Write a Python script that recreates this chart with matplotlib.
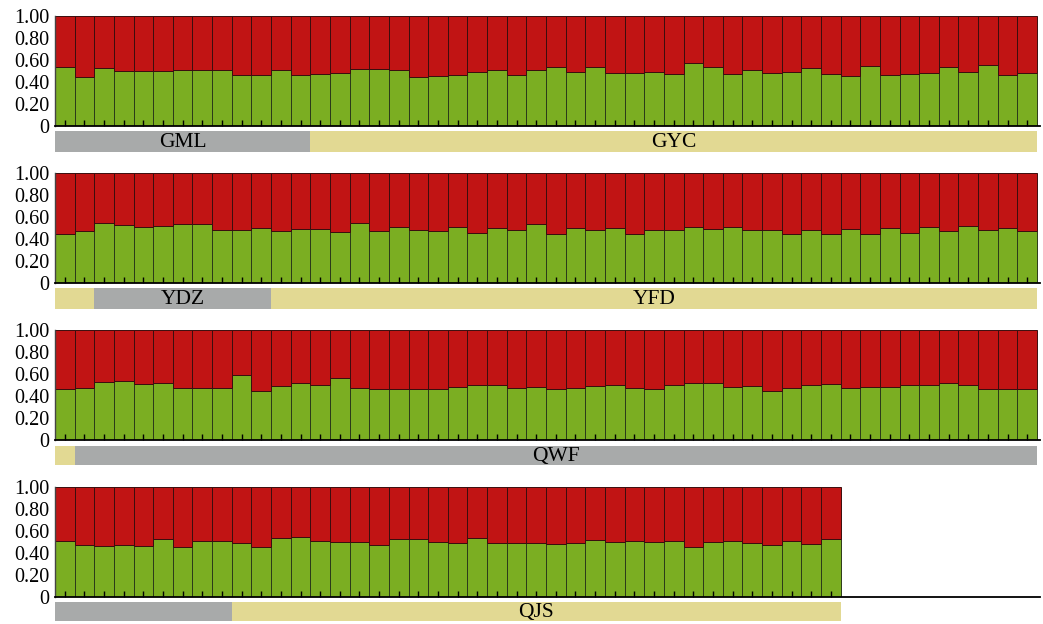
import matplotlib
matplotlib.use("Agg")
import matplotlib.pyplot as plt
import numpy as np

plt.rcParams['font.family'] = ['Liberation Serif', 'DejaVu Serif']

# proportion of the first cluster (green) for each individual
green_1 = [0.54, 0.447, 0.526, 0.498, 0.498, 0.498, 0.505, 0.51, 0.505, 0.468,
           0.468, 0.51, 0.462, 0.477, 0.486, 0.517, 0.517, 0.505, 0.447, 0.459,
           0.468, 0.489, 0.51, 0.468, 0.51, 0.54, 0.495, 0.532, 0.483, 0.483,
           0.495, 0.474, 0.577, 0.532, 0.474, 0.51, 0.483, 0.492, 0.526, 0.474,
           0.453, 0.547, 0.462, 0.474, 0.483, 0.54, 0.492, 0.556, 0.468, 0.486]
green_2 = [0.442, 0.473, 0.545, 0.527, 0.512, 0.521, 0.536, 0.536, 0.479, 0.485,
           0.5, 0.473, 0.491, 0.491, 0.465, 0.545, 0.473, 0.506, 0.479, 0.47,
           0.506, 0.455, 0.497, 0.485, 0.533, 0.448, 0.497, 0.479, 0.497, 0.442,
           0.485, 0.479, 0.506, 0.491, 0.506, 0.485, 0.479, 0.448, 0.479, 0.448,
           0.491, 0.448, 0.497, 0.455, 0.512, 0.473, 0.521, 0.485, 0.497, 0.473]
green_3 = [0.461, 0.476, 0.527, 0.533, 0.506, 0.515, 0.47, 0.47, 0.476, 0.588,
           0.442, 0.494, 0.515, 0.497, 0.561, 0.47, 0.461, 0.461, 0.461, 0.461,
           0.482, 0.503, 0.497, 0.476, 0.482, 0.461, 0.47, 0.491, 0.497, 0.476,
           0.461, 0.503, 0.521, 0.521, 0.482, 0.491, 0.448, 0.476, 0.497, 0.512,
           0.47, 0.482, 0.482, 0.497, 0.497, 0.521, 0.503, 0.461, 0.461, 0.461]
green_4 = [0.511, 0.474, 0.462, 0.477, 0.462, 0.526, 0.453, 0.505, 0.505, 0.489,
           0.453, 0.532, 0.541, 0.511, 0.498, 0.498, 0.474, 0.523, 0.523, 0.498,
           0.489, 0.538, 0.489, 0.489, 0.489, 0.48, 0.489, 0.514, 0.498, 0.505,
           0.498, 0.511, 0.453, 0.498, 0.505, 0.489, 0.474, 0.511, 0.48, 0.526]

# population strips under each panel: (label, number of individuals, colour key)
groups_1 = [("GML", 13, "gray"), ("GYC", 37, "yellow")]
groups_2 = [("", 2, "yellow"), ("YDZ", 9, "gray"), ("YFD", 39, "yellow")]
groups_3 = [("", 1, "yellow"), ("QWF", 49, "gray")]
groups_4 = [("", 9, "gray"), ("QJS", 31, "yellow")]

yticks = [0, 0.2, 0.4, 0.6, 0.8, 1.0]
ytick_labels = ["0", "0.20", "0.40", "0.60", "0.80", "1.00"]

GREEN = '#7bae22'
RED = '#c11414'
STRIP = {"gray": '#a8aaaa', "yellow": '#e2d993'}

W, H = 1043, 624
fig = plt.figure(figsize=(W / 100, H / 100), dpi=100)

panels = [
    (green_1, groups_1, 16, 126, 131, 152),
    (green_2, groups_2, 173, 283, 288, 309),
    (green_3, groups_3, 330, 440, 446, 465),
    (green_4, groups_4, 487, 597, 602, 621),
]

x_left, x_right = 55, 1040
xmax = 49.65

for green, groups, top, bot, s_top, s_bot in panels:
    ax = fig.add_axes([x_left / W, 1 - bot / H, (x_right - x_left) / W, (bot - top) / H])
    g = np.array(green)
    x = np.arange(len(g))
    ax.bar(x, g, width=1.0, color=GREEN, edgecolor='#2b3a1a', linewidth=0.7)
    ax.bar(x, 1 - g, bottom=g, width=1.0, color=RED, edgecolor='#3a0e0e', linewidth=0.7)
    ax.set_xlim(-0.5, xmax)
    ax.set_ylim(0, 1.0)
    ax.set_xticks(x)
    ax.set_xticklabels([])
    ax.tick_params(axis='x', direction='in', length=4.5, width=1.0, color='black')
    ax.set_yticks(yticks)
    ax.set_yticklabels(ytick_labels, fontsize=14.5)
    ax.tick_params(axis='y', length=0, pad=4)
    for s in ['top', 'right']:
        ax.spines[s].set_visible(False)
    ax.spines['bottom'].set_linewidth(1.3)
    ax.spines['left'].set_linewidth(1.0)
    ax.spines['left'].set_color('#444444')

    # population strip
    sx = fig.add_axes([x_left / W, 1 - s_bot / H, (x_right - x_left) / W, (s_bot - s_top) / H])
    sx.set_xlim(-0.5, xmax)
    sx.set_ylim(0, 1)
    sx.axis('off')
    start = -0.5
    for label, n, key in groups:
        sx.barh(0.5, n, left=start, height=1.0, color=STRIP[key], linewidth=0)
        if label:
            sx.text(start + n / 2, 0.45, label, ha='center', va='center', fontsize=15.5)
        start += n

fig.savefig('out.png', dpi=100)
